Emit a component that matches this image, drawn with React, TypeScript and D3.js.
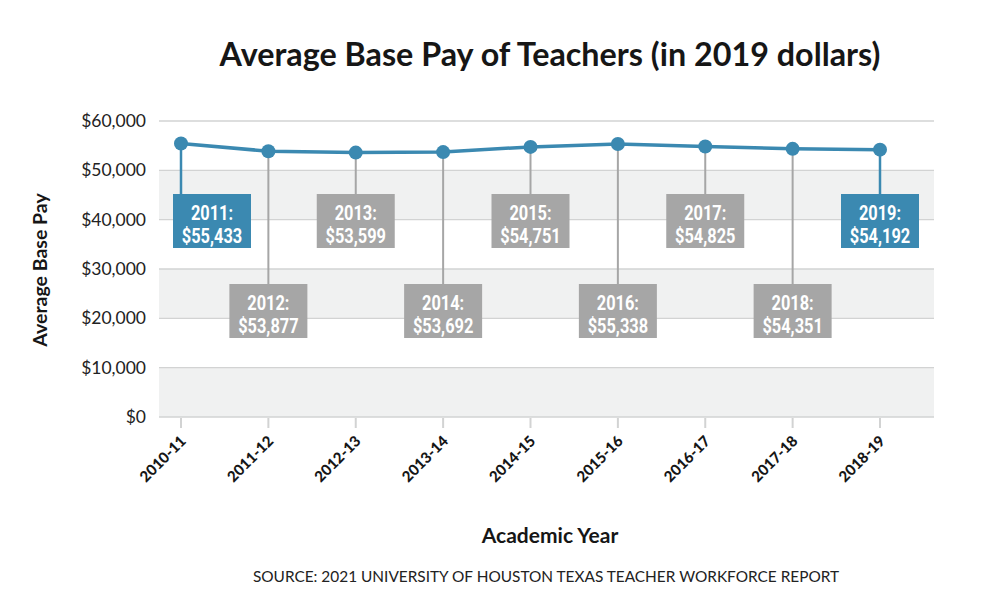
import React from 'react';
import * as d3 from 'd3';

// Academic years on the x axis and the label year for each
const years = ['2010-11', '2011-12', '2012-13', '2013-14', '2014-15', '2015-16', '2016-17', '2017-18', '2018-19'];
const labelYears = ['2011', '2012', '2013', '2014', '2015', '2016', '2017', '2018', '2019'];
// Average base pay in 2019 dollars
const pay = [55433, 53877, 53599, 53692, 54751, 55338, 54825, 54351, 54192];
const yTicks = [0, 10000, 20000, 30000, 40000, 50000, 60000];

const BLUE = '#3b89b1';
const GRAY = '#a6a6a6';
const BAND = '#f0f1f1';
const GRID = '#d2d3d3';
const INK = '#161616';

const W = 1000;
const H = 610;
const plot = { left: 159, right: 934, top: 121, bottom: 417 };

const App: React.FC = () => {
  const x = d3.scalePoint<string>().domain(years).range([181, 880]);
  const y = d3.scaleLinear().domain([0, 60000]).range([plot.bottom, plot.top]);
  const fmt = d3.format('$,');

  const line = d3.line<number>()
    .x((_, i) => x(years[i]) as number)
    .y(d => y(d));

  const boxW = 78;
  const boxH = 54;
  const upperTop = 194;
  const lowerTop = 284;

  // alternating shaded bands between gridlines
  const bands = d3.pairs(yTicks).filter((_, i) => i % 2 === 0);

  return (
    <svg width={W} height={H} style={{ position: 'absolute', left: 0, top: 0, background: '#fff' }}
      fontFamily="Lato, 'Open Sans', sans-serif">
      {/* title */}
      <text x={550} y={66} textAnchor="middle" fontSize={32.3} fontWeight={700} fill={INK}>
        Average Base Pay of Teachers (in 2019 dollars)
      </text>

      {/* bands and grid */}
      {bands.map(([a, b]) => (
        <rect key={a} x={plot.left} width={plot.right - plot.left} y={y(b)} height={y(a) - y(b)} fill={BAND} />
      ))}
      {yTicks.map(t => (
        <g key={t}>
          <line x1={plot.left} x2={plot.right} y1={y(t)} y2={y(t)} stroke={GRID} strokeWidth={1.3} />
          <text x={146} y={y(t)} dy="0.35em" textAnchor="end" fontSize={17.5} fill="#222">{fmt(t)}</text>
        </g>
      ))}

      {/* x ticks and rotated labels */}
      {years.map(yr => {
        const px = x(yr) as number;
        return (
          <g key={yr}>
            <line x1={px} x2={px} y1={plot.bottom + 1} y2={plot.bottom + 11} stroke={GRID} strokeWidth={2} />
            <text transform={`translate(${px + 6},${plot.bottom + 25}) rotate(-45)`} textAnchor="end"
              fontSize={15} fontWeight={900} fill={INK}>{yr}</text>
          </g>
        );
      })}

      {/* stems to the value boxes */}
      {pay.map((v, i) => {
        const px = x(years[i]) as number;
        const upper = i % 2 === 0;
        const edge = i === 0 || i === pay.length - 1;
        const top = upper ? upperTop : lowerTop;
        return (
          <line key={i} x1={px} x2={px} y1={y(v)} y2={top + 2} stroke={edge ? BLUE : GRAY} strokeWidth={edge ? 2.5 : 2} />
        );
      })}

      {/* trend line and points */}
      <path d={line(pay) ?? ''} fill="none" stroke={BLUE} strokeWidth={3.5} strokeLinejoin="round" />
      {pay.map((v, i) => (
        <circle key={i} cx={x(years[i]) as number} cy={y(v)} r={7} fill={BLUE} />
      ))}

      {/* value boxes */}
      {pay.map((v, i) => {
        const px = x(years[i]) as number;
        const upper = i % 2 === 0;
        const edge = i === 0 || i === pay.length - 1;
        const top = upper ? upperTop : lowerTop;
        const left = Math.max(px - boxW / 2, plot.left + 14);
        const cx = left + boxW / 2;
        return (
          <g key={i}>
            <rect x={left} y={top} width={boxW} height={boxH} fill={edge ? BLUE : GRAY} />
            <g transform={`translate(${cx},${top}) scale(0.8,1)`} fill="#fff" fontFamily="Roboto, sans-serif"
              fontWeight={700} fontSize={20.5} textAnchor="middle">
              <text y={26}>{labelYears[i]}:</text>
              <text y={49}>{fmt(v)}</text>
            </g>
          </g>
        );
      })}

      {/* axis titles */}
      <text transform="translate(47,270) rotate(-90)" textAnchor="middle" fontSize={19.5} fontWeight={700} fill={INK}>
        Average Base Pay
      </text>
      <text x={550} y={543} textAnchor="middle" fontSize={21} fontWeight={700} fill={INK}>Academic Year</text>
      <text x={546} y={582} textAnchor="middle" fontSize={15.4} fill="#222">
        SOURCE: 2021 UNIVERSITY OF HOUSTON TEXAS TEACHER WORKFORCE REPORT
      </text>
    </svg>
  );
};

export default App;
